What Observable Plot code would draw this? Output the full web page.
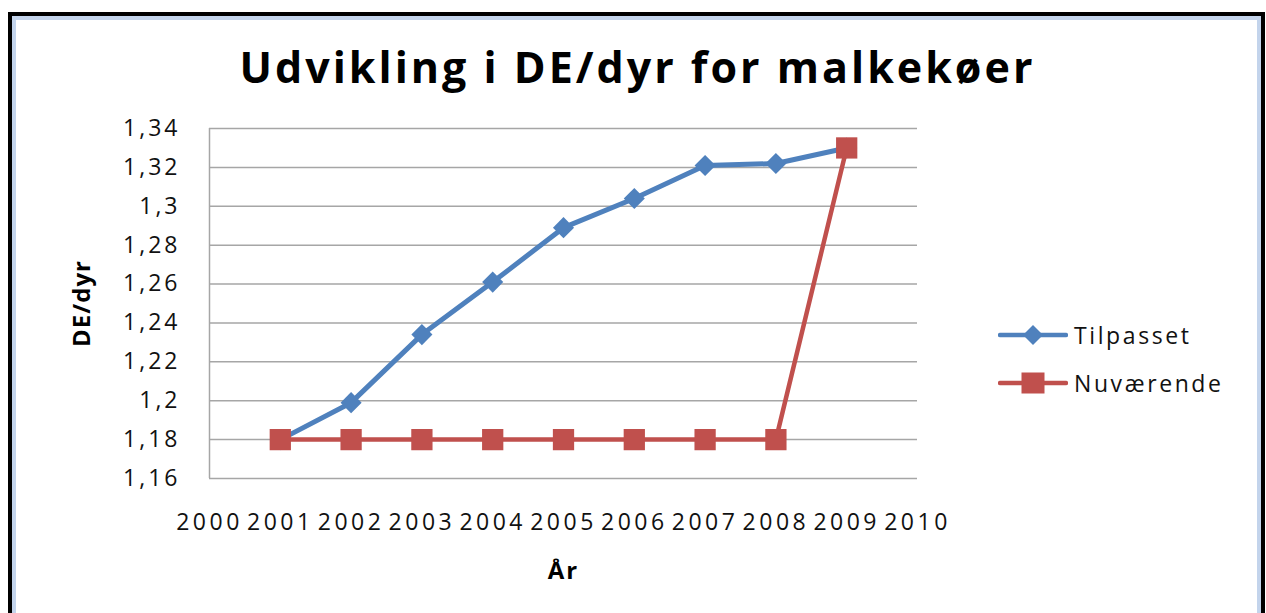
<!DOCTYPE html>
<html>
<head>
<meta charset="utf-8">
<script src="https://cdn.jsdelivr.net/npm/d3@7"></script>
<script src="https://cdn.jsdelivr.net/npm/@observablehq/plot@0.6"></script>
<style>
  body { margin: 0; background: #fff; }
  #wrap { position: relative; width: 1266px; height: 613px; overflow: hidden; background: #fff; font-family: "Open Sans", sans-serif; }
  #frame { position: absolute; left: 8px; top: 12px; width: 1249px; height: 700px; border: 4px solid #000; border-bottom: none; }
  #frame-inner { position: absolute; left: 0; top: 0; right: 0; bottom: 0; border: 4px solid #c3d4ec; border-bottom: none; }
  #chart { position: absolute; left: 0; top: 0; }
  #chart g[aria-label="x-axis tick label"] text { letter-spacing: 3.5px; }
  #chart g[aria-label="y-axis tick label"] text { letter-spacing: 3px; }
  .leg { position: absolute; left: 998px; height: 24px; display: flex; align-items: center; font-size: 23px; color: #111; letter-spacing: 2.6px; white-space: nowrap; }
  .leg svg { margin-right: 6px; }
</style>
</head>
<body>
<div id="wrap">
  <div id="frame"><div id="frame-inner"></div></div>
  <div id="chart"></div>
  <div id="legend"></div>
</div>
<script>
// ---- data ----
const years = [2001, 2002, 2003, 2004, 2005, 2006, 2007, 2008, 2009];
const tilpasset = [1.18, 1.199, 1.234, 1.261, 1.289, 1.304, 1.321, 1.322, 1.33];
const nuvaerende = [1.18, 1.18, 1.18, 1.18, 1.18, 1.18, 1.18, 1.18, 1.33];
const seriesNames = ["Tilpasset", "Nuværende"];
const xTicks = [2000, 2001, 2002, 2003, 2004, 2005, 2006, 2007, 2008, 2009, 2010];
const yTicks = [1.16, 1.18, 1.2, 1.22, 1.24, 1.26, 1.28, 1.3, 1.32, 1.34];
const titleText = "Udvikling i DE/dyr for malkekøer";
const yTitle = "DE/dyr";
const xTitle = "År";

const blue = "#4f81bd";
const red = "#c0504d";
const grid = "#a6a6a6";

const tData = years.map((yr, i) => ({year: yr, value: tilpasset[i]}));
const nData = years.map((yr, i) => ({year: yr, value: nuvaerende[i]}));
const fmt = d => String(+d.toFixed(2)).replace(".", ",");

const chart = Plot.plot({
  width: 1266,
  height: 613,
  marginLeft: 209,
  marginRight: 349,
  marginTop: 128,
  marginBottom: 135,
  style: {fontFamily: '"Open Sans", sans-serif', fontSize: "23px", color: "#111", background: "transparent", overflow: "visible"},
  x: {domain: [2000, 2010], ticks: xTicks, tickFormat: d => String(d), tickSize: 0, tickPadding: 35, label: null},
  y: {domain: [1.16, 1.34], ticks: yTicks, tickFormat: fmt, tickSize: 0, tickPadding: 29, label: null},
  marks: [
    Plot.ruleY(yTicks, {stroke: grid, strokeWidth: 1.5}),
    Plot.ruleX([2000], {stroke: grid, strokeWidth: 1.5}),
    Plot.line(tData, {x: "year", y: "value", stroke: blue, strokeWidth: 5}),
    Plot.dot(tData, {x: "year", y: "value", symbol: "diamond2", r: 9.5, fill: blue, stroke: "none"}),
    Plot.line(nData, {x: "year", y: "value", stroke: red, strokeWidth: 4.5}),
    Plot.dot(nData, {x: "year", y: "value", symbol: "square", r: 12, fill: red, stroke: "none"}),
    Plot.text([titleText], {text: d => d, frameAnchor: "top", textAnchor: "middle", lineAnchor: "middle", dx: 74, dy: -59, fontSize: 43, fontWeight: "bold", fill: "#000"}),
    Plot.text([yTitle], {text: d => d, frameAnchor: "left", textAnchor: "middle", lineAnchor: "middle", dx: -127, rotate: -90, fontSize: 24, fontWeight: "bold", fill: "#000"}),
    Plot.text([xTitle], {text: d => d, frameAnchor: "bottom", textAnchor: "middle", lineAnchor: "middle", dy: 93, fontSize: 24, fontWeight: "bold", fill: "#000"})
  ]
});
document.getElementById("chart").appendChild(chart);
// letter spacing for title / axis titles
chart.querySelectorAll('g[aria-label="text"] text').forEach(t => {
  const s = t.textContent;
  if (s === titleText) t.style.letterSpacing = "3px";
  else if (s === yTitle) t.style.letterSpacing = "1px";
  else if (s === xTitle) t.style.letterSpacing = "2px";
});

// legend
const legend = document.getElementById("legend");
const legColors = [blue, red];
const legTops = [323, 371];
seriesNames.forEach((name, i) => {
  const row = document.createElement("div");
  row.className = "leg";
  row.style.top = legTops[i] + "px";
  const sym = i === 0
    ? `<polygon points="35,2 45,12 35,22 25,12" fill="${blue}"/>`
    : `<rect x="23.5" y="1.5" width="23" height="21" fill="${red}"/>`;
  row.innerHTML = `<svg width="70" height="24"><line x1="2" y1="12" x2="68" y2="12" stroke="${legColors[i]}" stroke-width="4.5" stroke-linecap="round"/>${sym}</svg><span>${name}</span>`;
  legend.appendChild(row);
});
</script>
</body>
</html>
